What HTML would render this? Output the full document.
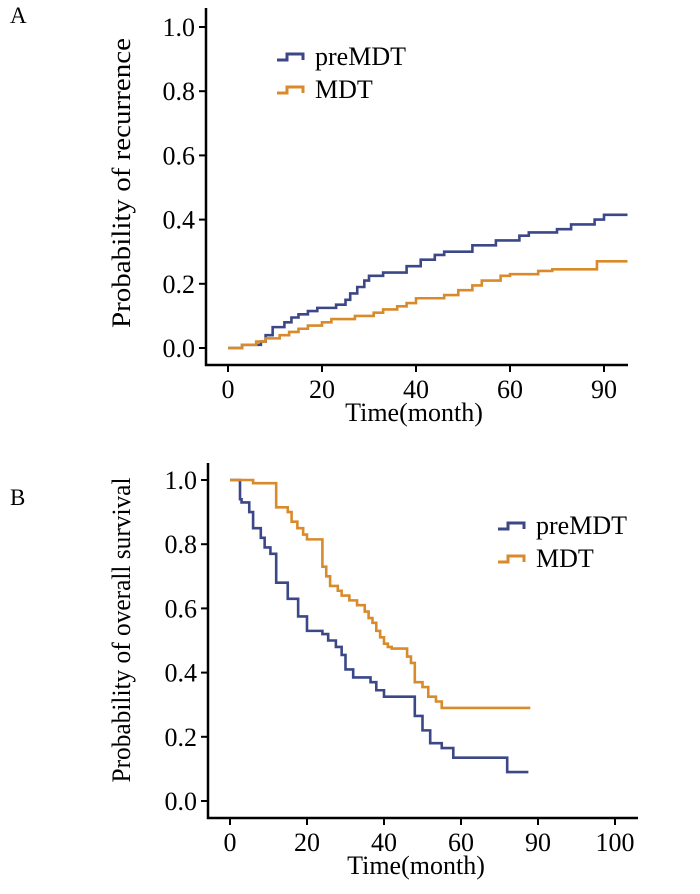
<!DOCTYPE html>
<html><head><meta charset="utf-8"><style>
body{margin:0;background:#fff;}
svg{display:block;font-family:"Liberation Serif",serif;}
</style></head><body>
<svg id="fig" width="700" height="894" xmlns="http://www.w3.org/2000/svg">
<text x="10" y="23" font-size="23">A</text>
<text x="10" y="505" font-size="23">B</text>
</svg>
<script>
// Panel A: cumulative recurrence
const aTicksX=[0,20,40,60,80];
const aTickLabelsX=["0","20","40","60","90"];
const aTicksY=[0,0.2,0.4,0.6,0.8,1.0];
const aPreT=[0,3,7,8,9.5,12,13.5,15,17,19,23,25,26,27.5,29,30,33,38,41,44,46,52,57,62,64,70,73,78,80,85];
const aPreV=[0,0.01,0.02,0.04,0.065,0.08,0.095,0.105,0.115,0.125,0.135,0.15,0.17,0.19,0.21,0.225,0.235,0.255,0.275,0.29,0.30,0.32,0.335,0.35,0.36,0.37,0.385,0.40,0.415,0.415];
const aMdtT=[0,3,6,8,11,13,15,17,20,22,27,31,33,36,38,40,46,49,52,54,58,60,66,69,78.5,85];
const aMdtV=[0,0.01,0.02,0.03,0.04,0.05,0.06,0.07,0.08,0.09,0.10,0.11,0.12,0.13,0.14,0.155,0.165,0.18,0.195,0.21,0.225,0.23,0.24,0.245,0.27,0.27];
// Panel B: overall survival
const bTicksX=[0,20,40,60,80,100];
const bTickLabelsX=["0","20","40","60","90","100"];
const bTicksY=[0,0.2,0.4,0.6,0.8,1.0];
const bPreT=[0,2.6,3,5,6,8,9,10.5,12,15,17.7,20,24,25.5,27.5,29,30,32,36.5,38,40,48,50,52,55,58,72,77.5];
const bPreV=[1,0.94,0.93,0.90,0.85,0.82,0.79,0.77,0.68,0.63,0.575,0.53,0.52,0.50,0.48,0.455,0.41,0.385,0.37,0.345,0.325,0.265,0.22,0.18,0.165,0.135,0.09,0.09];
const bMdtT=[0,6,12,15,16,17.5,19,20,24,25,26,28,29,31,33,35,36,37,38,39,40,41,42,46,47,48,50,51.5,53.5,55,78];
const bMdtV=[1,0.99,0.915,0.90,0.87,0.85,0.83,0.815,0.73,0.70,0.67,0.655,0.64,0.625,0.61,0.59,0.57,0.555,0.53,0.51,0.49,0.48,0.475,0.45,0.43,0.37,0.355,0.325,0.31,0.29,0.29];

const NS="http://www.w3.org/2000/svg";
const svg=document.getElementById('fig');
const BLUE="#3c4787",ORANGE="#d98a2b";
const FS=26;
function mk(tag,attrs,parent){const e=document.createElementNS(NS,tag);for(const k in attrs)e.setAttribute(k,attrs[k]);(parent||svg).appendChild(e);return e;}

function panel(cfg){
  const g=mk('g',{});
  
  
  const x=t=>cfg.x0+t*cfg.kx, y=v=>cfg.y0-v*cfg.ky;
  const ax=mk('path',{d:`M${cfg.axX},${cfg.yTop} V${cfg.axY} H${cfg.xEnd}`,stroke:'#000','stroke-width':2.5,fill:'none'},g);
  
  
  cfg.ticksY.forEach(v=>{
    const l=mk('line',{x1:cfg.axX-7,x2:cfg.axX,y1:y(v),y2:y(v),stroke:'#000','stroke-width':2},g);
    
    
    const t=mk('text',{x:cfg.axX-11,y:y(v)+9,'font-size':FS,'text-anchor':'end'},g);
    t.textContent=v.toFixed(1);
    
    
  });
  cfg.ticksX.forEach((v,i)=>{
    const l=mk('line',{x1:x(v),x2:x(v),y1:cfg.axY,y2:cfg.axY+7,stroke:'#000','stroke-width':2},g);
    
    
    const t=mk('text',{x:x(v),y:cfg.axY+33,'font-size':FS,'text-anchor':'middle'},g);
    t.textContent=cfg.labelsX[i];
    
    
  });
  const xt=mk('text',{x:cfg.xTitleX,y:cfg.axY+56,'font-size':FS,'text-anchor':'middle'},g);
  xt.textContent='Time(month)';
  
  
  const yt=mk('text',{x:0,y:0,'font-size':FS,'text-anchor':'middle',textLength:cfg.yTitleLen,lengthAdjust:'spacingAndGlyphs',transform:`translate(${cfg.yTitleX},${cfg.yTitleY}) rotate(-90)`},g);
  yt.textContent=cfg.yTitle;
  
  
  function step(T,V,color,name){
    let d=`M${x(T[0])},${y(V[0])}`;
    for(let i=1;i<T.length;i++){d+=` H${x(T[i])} V${y(V[i])}`;}
    const p=mk('path',{d:d,stroke:color,'stroke-width':2.6,fill:'none'},g);
    
    
  }
  step(cfg.preT,cfg.preV,BLUE,'premdt-curve');
  step(cfg.mdtT,cfg.mdtV,ORANGE,'mdt-curve');
  [['preMDT',BLUE,cfg.legY],['MDT',ORANGE,cfg.legY+33]].forEach(([lab,c,ly])=>{
    const lx=cfg.legX;
    const ic=mk('path',{d:`M${lx},${ly+4} H${lx+10} V${ly-2} H${lx+17} V${ly-2} H${lx+26} V${ly+4}`,stroke:c,'stroke-width':3,fill:'none'},g);
    
    
    const t=mk('text',{x:lx+38,y:ly+9,'font-size':FS},g);
    t.textContent=lab;
    
    
  });
}
panel({name:'recurrence-chart',x0:228,kx:4.7,y0:348,ky:321,axX:206,axY:365,yTop:8,xEnd:628,
  ticksX:aTicksX,labelsX:aTickLabelsX,ticksY:aTicksY,preT:aPreT,preV:aPreV,mdtT:aMdtT,mdtV:aMdtV,
  xTitleX:414,yTitleX:130,yTitleY:183,yTitleLen:290,yTitle:'Probability of recurrence',legX:277,legY:56});
panel({name:'survival-chart',x0:230,kx:3.85,y0:801,ky:321,axX:208,axY:818,yTop:463,xEnd:638,
  ticksX:bTicksX,labelsX:bTickLabelsX,ticksY:bTicksY,preT:bPreT,preV:bPreV,mdtT:bMdtT,mdtV:bMdtV,
  xTitleX:416,yTitleX:130,yTitleY:630,yTitleLen:305,yTitle:'Probability of overall survival',legX:498,legY:525});
</script>
</body></html>
